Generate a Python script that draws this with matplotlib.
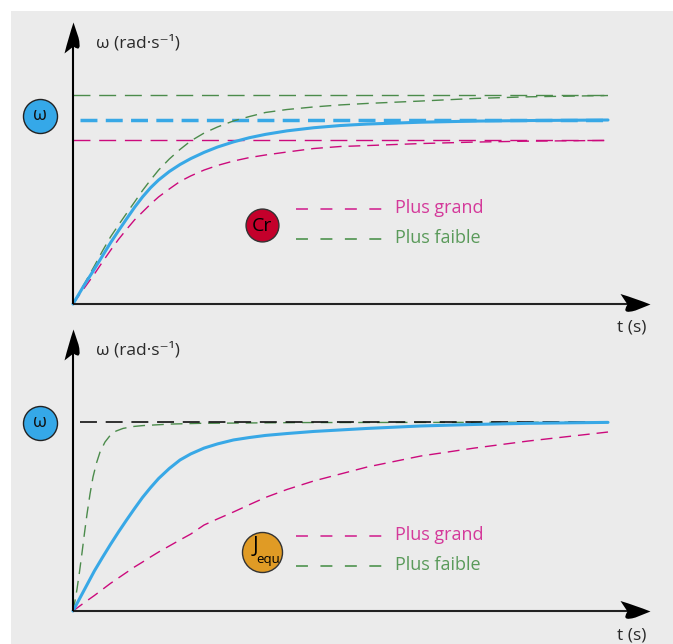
import matplotlib
matplotlib.use("Agg")
import matplotlib.pyplot as plt
from matplotlib.path import Path
from matplotlib.patches import Rectangle

plt.rcParams['font.family'] = ['Open Sans', 'DejaVu Sans']
plt.rcParams['lines.scale_dashes'] = False

# ---------------- data ----------------
t_grid = [0, 0.2, 0.4, 0.55, 0.7, 0.85, 1.0, 1.15, 1.3, 1.45, 1.6, 1.8, 2.0, 2.2,
          2.45, 2.7, 3.0, 3.3, 3.6, 4.0, 4.5, 5.0, 5.5, 6.5, 7.5, 8.5, 10.0]

# Top panel: effect of the resisting torque Cr
top_ref = [0, 0.098, 0.190, 0.261, 0.332, 0.398, 0.462, 0.525, 0.582, 0.632, 0.674,
           0.720, 0.758, 0.790, 0.824, 0.853, 0.881, 0.904, 0.922, 0.941, 0.958,
           0.970, 0.978, 0.988, 0.994, 0.997, 1.0]
top_grand = [0, 0.082, 0.163, 0.228, 0.291, 0.351, 0.405, 0.457, 0.500, 0.543, 0.582,
             0.625, 0.666, 0.696, 0.728, 0.753, 0.777, 0.796, 0.810, 0.826, 0.845,
             0.856, 0.861, 0.872, 0.880, 0.885, 0.889]
top_faible = [0, 0.103, 0.207, 0.288, 0.364, 0.429, 0.492, 0.554, 0.617, 0.674, 0.728,
              0.788, 0.840, 0.886, 0.929, 0.962, 0.995, 1.019, 1.041, 1.057, 1.071,
              1.082, 1.090, 1.103, 1.117, 1.126, 1.133]
top_levels = {'ref': 1.0, 'grand': 0.890, 'faible': 1.134}

# Bottom panel: effect of the equivalent inertia J_equ
bot_ref = [0, 0.106, 0.212, 0.283, 0.352, 0.418, 0.481, 0.542, 0.601, 0.653, 0.701,
           0.754, 0.799, 0.831, 0.862, 0.884, 0.905, 0.918, 0.929, 0.939, 0.950,
           0.958, 0.966, 0.979, 0.987, 0.993, 0.998]
bot_grand = [0, 0.042, 0.082, 0.114, 0.146, 0.175, 0.204, 0.233, 0.259, 0.286, 0.312,
             0.344, 0.376, 0.407, 0.455, 0.487, 0.524, 0.563, 0.601, 0.643, 0.688,
             0.725, 0.762, 0.820, 0.862, 0.899, 0.947]
t_faible_bot = [0, 0.037, 0.075, 0.121, 0.168, 0.215, 0.262, 0.318, 0.374, 0.439, 0.505,
                0.598, 0.692, 0.804, 0.935, 1.121, 1.308, 1.813, 2.374, 4.243, 10.0]
bot_faible = [0, 0.053, 0.116, 0.206, 0.307, 0.413, 0.513, 0.619, 0.709, 0.783, 0.841,
              0.894, 0.928, 0.952, 0.966, 0.976, 0.981, 0.989, 0.993, 0.997, 0.999]
bot_level = 1.0

y_label = "ω (rad·s⁻¹)"
x_label = "t (s)"
legend_labels = ["Plus grand", "Plus faible"]

# ---------------- style ----------------
BLUE = '#38a8e6'
GREEN = '#4b8b4b'
MAGENTA = '#cc0a7c'
GREEN_TXT = '#5a9a5a'
MAGENTA_TXT = '#d4399a'
BG = '#ebebeb'
TXT = '#2a2a2a'

W, H = 673, 644
fig = plt.figure(figsize=(W / 100, H / 100), dpi=100)
fig.patch.set_facecolor('white')
fig.patches.append(Rectangle((11 / W, 0), 1 - 11 / W, 1 - 11 / H, transform=fig.transFigure,
                             facecolor=BG, edgecolor='none', zorder=-10))

X0, XS = 73, 53.5


def make_axes(y0, ys):
    ax = fig.add_axes([0, 0, 1, 1])
    ax.set_facecolor('none')
    ax.axis('off')
    ax.set_xlim(-X0 / XS, (W - X0) / XS)
    ax.set_ylim((y0 - H) / ys, y0 / ys)
    return ax


def px_t(px):
    return (px - X0) / XS


arrow_x = Path([(0, 0), (-15, 6), (-30, 10.5), (-23, 0), (-30, -10.5), (-15, -6), (0, 0)],
               [Path.MOVETO, Path.CURVE3, Path.CURVE3, Path.LINETO, Path.CURVE3, Path.CURVE3, Path.CLOSEPOLY])
arrow_y = Path([(0, 0), (-5, -15), (-9, -31), (0, -24), (9, -31), (5, -15), (0, 0)],
               [Path.MOVETO, Path.CURVE3, Path.CURVE3, Path.LINETO, Path.CURVE3, Path.CURVE3, Path.CLOSEPOLY])


def draw_axes_frame(ax, y0, ys):
    def w(py):
        return (y0 - py) / ys
    tip_x = px_t(650)
    tip_y = w(y0 - 282)
    ax.plot([0, px_t(632)], [0, 0], color='#222222', lw=1.5, solid_capstyle='butt', zorder=5)
    ax.plot([0, 0], [0, w(y0 - 262)], color='black', lw=1.5, solid_capstyle='butt', zorder=5)
    ax.plot([tip_x], [0], marker=arrow_x, markersize=43.2, color='black', mew=0, zorder=6)
    ax.plot([0], [tip_y], marker=arrow_y, markersize=44.6, color='black', mew=0, zorder=6)
    ax.text(px_t(96), w(y0 - 261), y_label, fontsize=12.5, color=TXT,
            ha='left', va='center')
    ax.text(px_t(632), w(y0 + 24), x_label, fontsize=12.5, color=TXT,
            ha='center', va='center')
    # omega badge
    ax.scatter([px_t(40)], [w(y0 - 188)], s=600, color='#35a8e8', edgecolor='#222222',
               linewidth=1.0, zorder=6, clip_on=False)
    ax.text(px_t(40), w(y0 - 189), "ω", fontsize=13, ha='center', va='center', color='#111111', zorder=7)
    return w


def legend(ax, w, y0, dy, badge_color, badge_size, badge_kind):
    by = y0 - dy
    ax.scatter([px_t(262)], [w(by)], s=badge_size, color=badge_color, edgecolor='#333333',
               linewidth=1.0, zorder=6)
    if badge_kind == 'Cr':
        ax.text(px_t(262), w(by + 1), "Cr", fontsize=14, ha='center', va='center', color='black', zorder=7)
    else:
        ax.text(px_t(255), w(by - 5), "J", fontsize=15, ha='center', va='center', color='black', zorder=7)
        ax.text(px_t(268), w(by + 8), "equ", fontsize=9.5, ha='center', va='center', color='black', zorder=7)
    for i, (lab, tc) in enumerate(zip(legend_labels, [MAGENTA_TXT, GREEN_TXT])):
        yy = w(by - 16 + i * 30)
        ax.plot([px_t(296), px_t(388)], [yy, yy], color=tc, lw=1.3, dashes=(8.6, 9.0))
        ax.text(px_t(395), w(by - 17 + i * 30), lab, fontsize=13, color=tc, ha='left', va='center')


# ---------------- top panel ----------------
Y0t, YSt = 304, 184
ax1 = make_axes(Y0t, YSt)
w1 = draw_axes_frame(ax1, Y0t, YSt)
t_end = t_grid[-1]
ax1.plot([0, t_end], [top_levels['faible']] * 2, color=GREEN, lw=1.0, dashes=(12.2, 6.3), zorder=3)
ax1.plot([0, t_end], [top_levels['grand']] * 2, color=MAGENTA, lw=1.0, dashes=(12.2, 6.3), zorder=3)
ax1.plot([px_t(80), t_end], [top_levels['ref']] * 2, color=BLUE, lw=2.5, dashes=(12.2, 6.0), zorder=3)
ax1.plot(t_grid, top_faible, color=GREEN, lw=1.0, dashes=(8.5, 5.0), zorder=3)
ax1.plot(t_grid, top_grand, color=MAGENTA, lw=1.0, dashes=(8.5, 5.0), zorder=3)
ax1.plot(t_grid, top_ref, color=BLUE, lw=2.2, zorder=4, solid_capstyle='round', solid_joinstyle='round')
legend(ax1, w1, Y0t, 79, '#c4002b', 560, 'Cr')

# ---------------- bottom panel ----------------
Y0b, YSb = 611, 189
ax2 = make_axes(Y0b, YSb)
w2 = draw_axes_frame(ax2, Y0b, YSb)
ax2.plot(t_faible_bot, bot_faible, color=GREEN, lw=1.0, dashes=(8.5, 5.0), zorder=3)
ax2.plot(t_grid, bot_grand, color=MAGENTA, lw=1.0, dashes=(8.5, 5.0), zorder=3)
ax2.plot([px_t(80), t_end], [bot_level] * 2, color='#111111', lw=1.2, dashes=(12.2, 6.3), zorder=3)
ax2.plot(t_grid, bot_ref, color=BLUE, lw=2.2, zorder=4, solid_capstyle='round', solid_joinstyle='round')
legend(ax2, w2, Y0b, 59, '#e09b25', 830, 'J')

fig.savefig('out.png', dpi=100)
